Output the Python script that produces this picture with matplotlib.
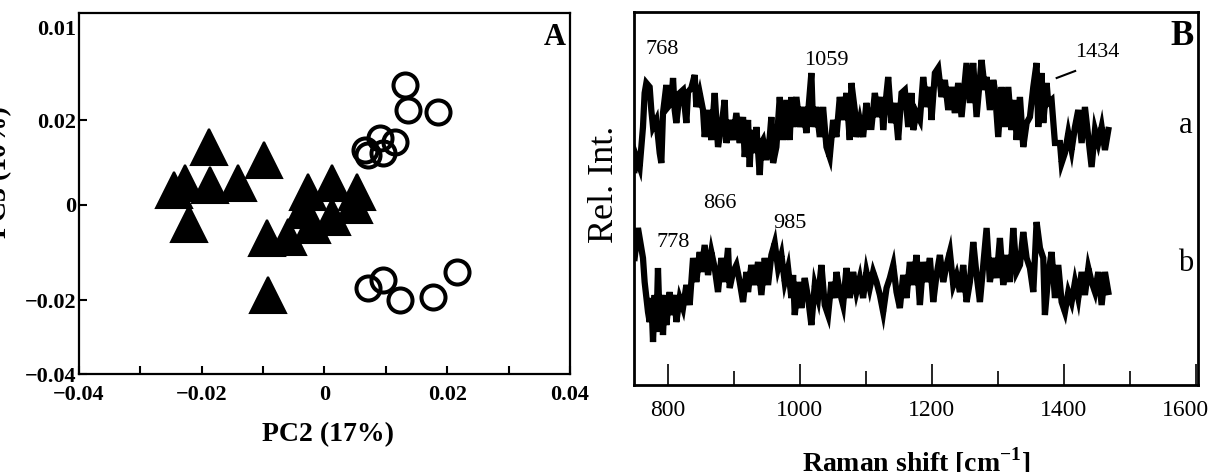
import matplotlib.pyplot as plt

plt.rcParams['font.family'] = 'Liberation Serif'
plt.rcParams['mathtext.fontset'] = 'custom'
plt.rcParams['mathtext.rm'] = 'Liberation Serif'
plt.rcParams['mathtext.bf'] = 'Liberation Serif:bold'

# ---- panel A: PCA scores (PC2 vs PC3)
tri_pc2 = [-0.0188, -0.0099, -0.0245, -0.0227, -0.0187, -0.0141, -0.0221, -0.0092,
           -0.0094, -0.0059, -0.0020, 0.0012, 0.0048, -0.0027, 0.0012, 0.0053, -0.0035]
tri_pc3 = [0.0137, 0.0107, 0.0036, 0.0052, 0.0047, 0.0052, -0.0045, -0.0213,
           -0.0078, -0.0076, -0.0047, -0.0028, 0.0000, 0.0031, 0.0052, 0.0031, -0.0012]
circ_pc2 = [0.0131, 0.0136, 0.0185, 0.0115, 0.0090, 0.0066, 0.0071, 0.0095,
            0.0216, 0.0177, 0.0123, 0.0095, 0.0071]
circ_pc3 = [0.0284, 0.0225, 0.0220, 0.0149, 0.0159, 0.0130, 0.0118, 0.0123,
            -0.0159, -0.0218, -0.0225, -0.0178, -0.0196]

# ---- panel B: Raman spectra (a, b), arbitrary intensity units
shift_a = [750.0, 752.5, 757.6, 762.6, 765.1, 767.7, 772.7, 775.2, 777.8, 782.8,
           787.9, 790.4, 792.9, 798.0, 800.5, 805.5, 808.1, 810.6, 813.1, 818.2,
           823.2, 828.3, 830.8, 835.8, 840.9, 843.4, 848.5, 853.5, 856.0, 861.1,
           866.1, 871.2, 876.2, 881.3, 886.3, 888.9, 893.9, 899.0, 904.0, 909.1,
           914.1, 916.6, 921.7, 924.2, 926.7, 931.8, 934.3, 939.4, 941.9, 944.4,
           949.5, 954.5, 957.0, 959.6, 964.6, 969.7, 974.7, 979.8, 984.8, 987.3,
           989.9, 994.9, 1000.0, 1005.0, 1010.1, 1017.6, 1020.2, 1025.2, 1030.3, 1035.3,
           1040.4, 1045.4, 1050.5, 1055.5, 1060.6, 1065.6, 1070.7, 1075.7, 1078.2, 1083.3,
           1085.8, 1090.9, 1095.9, 1100.9, 1106.0,
           1108.6, 1113.7, 1118.7, 1123.8, 1126.3, 1131.4, 1133.9, 1138.9, 1144.0, 1149.0,
           1154.1, 1159.1, 1164.2, 1169.2, 1171.8, 1176.8, 1181.9, 1186.9, 1192.0, 1197.0,
           1199.5, 1204.6, 1209.6, 1214.7, 1219.7, 1224.8, 1229.8, 1234.9, 1239.9, 1245.0,
           1252.5, 1257.6, 1262.6, 1267.7, 1275.3, 1280.3, 1282.9, 1287.9, 1293.0, 1295.5,
           1300.5, 1305.6, 1310.6, 1315.7, 1320.7, 1325.8, 1328.3, 1333.4, 1338.4, 1343.5,
           1348.5, 1353.6, 1358.6, 1361.1, 1366.2, 1368.7, 1373.8, 1376.3, 1381.3, 1386.4,
           1394.0, 1396.5, 1401.5, 1406.6, 1411.6, 1416.7, 1421.7, 1426.8, 1431.8, 1436.9,
           1441.9, 1447.0, 1452.0, 1457.1, 1462.1, 1467.2]
int_a = [215, 228, 218, 258, 292, 302, 298, 275, 258, 265,
         232, 222, 272, 300, 278, 282, 307, 275, 262, 292,
         295, 262, 293, 297, 310, 278, 292, 275, 248, 275,
         245, 292, 238, 258, 285, 242, 265, 245, 272, 242,
         268, 228, 265, 218, 255, 232, 258, 210, 242, 245,
         225, 248, 268, 222, 238, 288, 245, 285, 245, 288,
         258, 288, 258, 278, 252, 312, 258, 278, 248, 278,
         238, 228, 265, 248, 288, 265, 292, 245, 302, 275,
         248, 265, 248, 282, 258,
         258, 292, 268, 288, 255, 292, 308, 262, 282, 245,
         292, 295, 258, 292, 255, 272, 265, 308, 278, 298,
         265, 312, 317, 288, 305, 275, 298, 272, 302, 268,
         322, 282, 322, 268, 325, 295, 308, 275, 305, 295,
         248, 298, 258, 298, 255, 285, 245, 288, 238, 262,
         268, 298, 322, 258, 312, 262, 302, 282, 285, 242,
         242, 222, 232, 252, 235, 258, 275, 242, 278, 248,
         218, 255, 242, 258, 235, 255]

shift_b = [750.0, 755.0, 760.1, 762.6, 765.1, 770.2, 772.7, 775.2, 777.8, 780.3,
           782.8, 785.3, 787.9, 790.4, 792.9, 795.4, 798.0, 803.0, 805.5, 810.6,
           813.1, 818.2, 823.2, 828.3, 833.3, 838.4, 843.4, 848.5, 851.0, 856.0,
           861.1, 866.1, 871.2, 876.2, 881.3, 886.3, 891.4, 893.9, 899.0, 904.0,
           909.1, 914.1, 919.2, 921.7, 926.7, 931.8, 936.8, 941.9, 946.9, 952.0,
           957.0, 962.1, 967.1, 972.2, 977.2, 982.3, 987.3, 989.9, 992.4, 997.4,
           1002.5, 1007.5, 1012.6, 1017.6, 1022.7, 1027.7, 1032.8, 1037.8, 1042.9, 1047.9,
           1053.0, 1055.5, 1060.6, 1065.6, 1070.7, 1075.7, 1080.8, 1085.8, 1090.9, 1095.9,
           1100.9, 1106.0,
           1111.1, 1116.2, 1121.3, 1126.3, 1131.4, 1136.4, 1141.5, 1146.5, 1151.6, 1156.6,
           1161.7, 1166.7, 1171.8, 1176.8, 1181.9, 1186.9, 1192.0, 1197.0, 1202.1, 1207.1,
           1212.2, 1217.2, 1222.3, 1227.3, 1232.4, 1237.4, 1242.5, 1247.5, 1252.6, 1257.6,
           1262.7, 1267.7, 1272.8, 1277.8, 1282.9, 1287.9, 1293.0, 1298.0, 1303.1, 1308.1,
           1313.2, 1318.2, 1323.3, 1328.3, 1333.4, 1338.4, 1343.5, 1348.5, 1353.6, 1358.6,
           1363.7, 1368.7, 1371.2, 1376.3, 1381.3, 1386.4, 1391.4, 1396.5, 1401.5, 1406.6,
           1411.6, 1416.7, 1421.7, 1426.8, 1431.8, 1436.9, 1441.9, 1447.0, 1452.0, 1457.1,
           1462.1, 1467.2]
int_b = [127, 157, 137, 127, 103, 73, 63, 87, 43, 90,
         53, 117, 63, 90, 50, 90, 60, 93, 70, 90,
         63, 87, 77, 100, 80, 127, 103, 133, 113, 140,
         110, 133, 117, 93, 127, 103, 137, 97, 113, 120,
         103, 83, 113, 93, 120, 100, 123, 90, 127, 100,
         130, 142, 117, 130, 103, 117, 87, 110, 70, 103,
         77, 107, 87, 60, 100, 87, 120, 80, 70, 103,
         87, 113, 93, 80, 117, 87, 113, 93, 107, 87,
         113, 97,
         113, 103, 90, 73, 97, 107, 120, 93, 77, 110,
         87, 123, 100, 130, 80, 123, 103, 127, 83, 110,
         130, 103, 120, 133, 100, 110, 93, 120, 83, 103,
         143, 110, 83, 120, 157, 103, 127, 107, 147, 100,
         130, 103, 157, 113, 120, 153, 127, 117, 93, 163,
         137, 127, 70, 110, 133, 87, 120, 83, 73, 93,
         83, 103, 87, 113, 90, 117, 103, 93, 113, 80,
         113, 93]

fig = plt.figure(figsize=(12.09, 4.72), dpi=100)

# ---------------- panel A
axA = fig.add_axes([0.0653, 0.2076, 0.4062, 0.7648])
axA.plot(tri_pc2, tri_pc3, '^', ms=25.5, color='black', mew=1.5, linestyle='none')
axA.plot(circ_pc2, circ_pc3, 'o', ms=17.3, mfc='none', mec='black', mew=2.9, linestyle='none')
axA.set_xlim(-0.04, 0.04)
axA.set_ylim(-0.04, 0.0454)
axA.set_xticks([-0.04, -0.02, 0, 0.02, 0.04])
axA.set_xticklabels(['\u22120.04', '\u22120.02', '0', '0.02', '0.04'])
axA.set_xticks([-0.03, -0.01, 0.01, 0.03], minor=True)
axA.set_yticks([-0.04, -0.0225, 0, 0.02, 0.042])
axA.set_yticklabels(['\u22120.04', '\u22120.02', '0', '0.02', '0.01'])
axA.yaxis.get_major_ticks()[-1].tick1line.set_visible(False)
axA.tick_params(axis='both', which='both', direction='in', length=6, width=1.5,
                labelsize=16, top=False, right=False)
axA.tick_params(axis='x', pad=8)
axA.tick_params(axis='y', pad=2)
for lab in axA.get_xticklabels() + axA.get_yticklabels():
    lab.set_fontweight('bold')
for sp in axA.spines.values():
    sp.set_linewidth(1.6)
axA.text(0.969, 0.931, 'A', transform=axA.transAxes, fontsize=22, fontweight='bold',
         ha='center', va='center')
fig.text(328 / 1209, 1 - 435 / 472, 'PC2 (17%)', fontsize=20, fontweight='bold',
         ha='center', va='center')
fig.text(0.0, 1 - 172 / 472, 'PC3 (10%)', fontsize=20, fontweight='bold',
         rotation=90, ha='center', va='center')

# ---------------- panel B
axB = fig.add_axes([0.5244, 0.1843, 0.4665, 0.7903])
axB.plot(shift_a, int_a, color='black', lw=4.5, solid_joinstyle='miter')
axB.plot(shift_b, int_b, color='black', lw=4.5, solid_joinstyle='miter')
axB.set_xlim(749, 1603)
axB.set_ylim(0, 373)
axB.set_yticks([])
axB.set_xticks([800, 1000, 1200, 1400, 1600])
axB.set_xticklabels(['800', '1000', '1200', '1400', ''])
axB.set_xticks([900, 1100, 1300, 1500], minor=True)
axB.tick_params(axis='x', which='major', direction='in', length=15, width=1.2,
                labelsize=17, pad=11)
axB.tick_params(axis='x', which='minor', direction='in', length=10, width=1.2)
for sp in axB.spines.values():
    sp.set_linewidth(2)
# last tick label sits against the right edge of the figure
fig.text(1185 / 1209, 1 - 410 / 472, '1600', fontsize=17, ha='center', va='center')

axB.text(791, 335, '768', fontsize=16, ha='center', va='center')
axB.text(1041, 324, '1059', fontsize=16, ha='center', va='center')
axB.text(1451, 332, '1434', fontsize=16, ha='center', va='center')
axB.plot([1389, 1417], [307, 314], color='black', lw=1.5)
axB.text(808, 143, '778', fontsize=16, ha='center', va='center')
axB.text(879, 181, '866', fontsize=16, ha='center', va='center')
axB.text(985, 162, '985', fontsize=16, ha='center', va='center')
axB.text(0.972, 0.933, 'B', transform=axB.transAxes, fontsize=25, fontweight='bold',
         ha='center', va='center')
axB.text(0.979, 0.697, 'a', transform=axB.transAxes, fontsize=22, ha='center', va='center')
axB.text(0.979, 0.327, 'b', transform=axB.transAxes, fontsize=22, ha='center', va='center')

fig.text(605 / 1209, 1 - 184 / 472, 'Rel. Int.', fontsize=26, rotation=90,
         ha='center', va='center')
fig.text(916 / 1209, 0.0, 'Raman shift [cm$^{\\mathbf{-1}}$]', fontsize=20,
         fontweight='bold', ha='center', va='baseline')

fig.savefig('out.png', dpi=100)
